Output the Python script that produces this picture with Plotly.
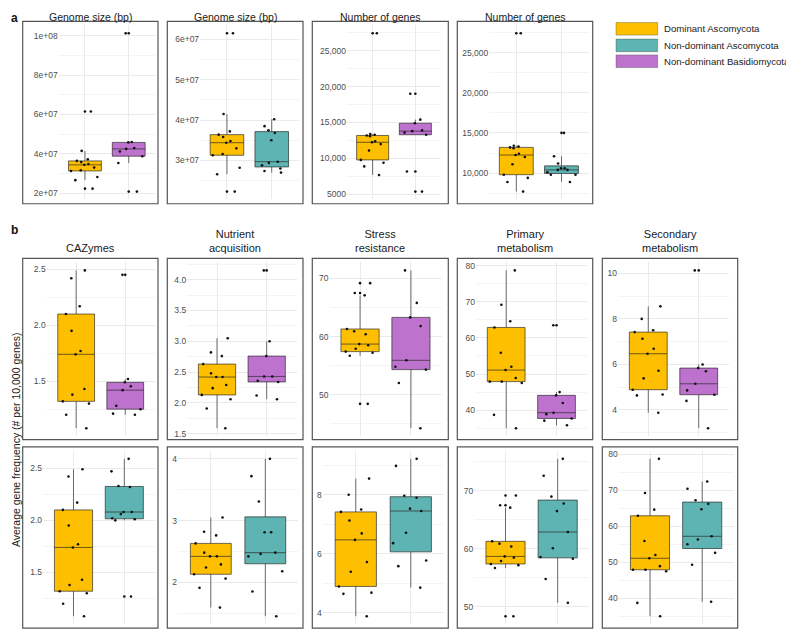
import numpy as np
import plotly.graph_objects as go

W, H = 794, 632
OFF = 8  # the page body margin shifts the figure by this many pixels

# ---------------- categories / legend ----------------
CAT_DA = "Dominant Ascomycota"
CAT_NDA = "Non-dominant Ascomycota"
CAT_NDB = "Non-dominant Basidiomycota"
legend_labels = [CAT_DA, CAT_NDA, CAT_NDB]
COLORS = {CAT_DA: "#FDBF00", CAT_NDA: "#5DB4B2", CAT_NDB: "#BD73CE"}

# ---------------- data ----------------
genome_DA = [6.15e7, 4.15e7, 3.72e7, 3.64e7, 3.58e7, 3.48e7, 3.44e7, 3.30e7, 3.16e7, 3.13e7, 2.82e7, 2.66e7, 2.23e7]
genome_NDB = [10.13e7, 4.60e7, 4.58e7, 4.30e7, 4.25e7, 4.12e7, 3.88e7, 3.53e7, 2.08e7]
genome_NDA = [4.02e7, 3.85e7, 3.75e7, 3.68e7, 3.50e7, 2.97e7, 2.94e7, 2.88e7, 2.80e7, 2.74e7, 2.70e7]

genes_DA = [27400, 13400, 13300, 13200, 13100, 12400, 12250, 12000, 11100, 9800, 9400, 8900, 7700]
genes_NDB = [19000, 15400, 14900, 13900, 13800, 13600, 13300, 8200, 5400]
genes_NDA = [15000, 12100, 11200, 10600, 10600, 10400, 10400, 10100, 9800, 9800, 8900]

caz_DA = [2.49, 2.42, 2.17, 2.10, 1.95, 1.77, 1.74, 1.43, 1.38, 1.32, 1.30, 1.20, 1.08]
caz_NDB = [2.45, 1.52, 1.49, 1.455, 1.42, 1.28, 1.25, 1.21, 1.20]
caz_NDA = [2.59, 2.47, 2.33, 2.32, 2.08, 2.08, 2.06, 2.02, 2.01, 2.00, 1.27]

nut_DA = [3.05, 2.82, 2.76, 2.63, 2.48, 2.42, 2.42, 2.29, 2.24, 2.13, 2.06, 1.91, 1.59]
nut_NDB = [4.15, 3.00, 2.76, 2.43, 2.43, 2.36, 2.34, 2.12, 2.06]
nut_NDA = [4.00, 3.72, 3.31, 2.81, 2.81, 2.48, 2.46, 2.42, 2.18, 1.85, 1.45]

str_DA = [69.2, 67.5, 67.1, 61.3, 60.9, 60.4, 58.7, 58.5, 57.9, 57.4, 57.2, 56.7, 48.4]
str_NDB = [71.4, 65.8, 63.3, 61.8, 55.9, 54.8, 54.3, 52.0, 44.2]
str_NDA = [75.5, 72.6, 69.0, 67.8, 66.5, 62.9, 60.1, 58.6, 58.3, 54.8, 50.7]

pri_DA = [78.7, 69.2, 64.6, 62.9, 55.9, 52.0, 51.1, 48.9, 47.9, 47.9, 47.5, 38.7, 35.0]
pri_NDB = [63.5, 45.0, 44.1, 42.0, 39.3, 38.9, 37.7, 37.1, 35.8]
pri_NDA = [72.4, 70.4, 67.2, 66.2, 64.7, 57.2, 56.3, 55.0, 52.6, 49.3, 39.0]

sec_DA = [8.55, 8.00, 7.50, 7.42, 7.13, 6.69, 6.47, 5.72, 5.39, 4.89, 4.68, 4.64, 3.88]
sec_NDB = [10.13, 6.00, 5.84, 5.70, 5.15, 4.86, 4.67, 4.40, 3.20]
sec_NDA = [9.22, 8.98, 7.97, 7.90, 7.53, 7.45, 6.71, 6.36, 5.77, 5.58, 4.85]

# ---------------- titles and tick labels ----------------
title_genome = "Genome size (bp)"
title_genes = "Number of genes"
title_caz = "CAZymes"
title_nut = "Nutrient<br>acquisition"
title_str = "Stress<br>resistance"
title_pri = "Primary<br>metabolism"
title_sec = "Secondary<br>metabolism"
yaxis_title = "Average gene frequency (# per 10,000 genes)"

ticks_genome1 = [2e7, 4e7, 6e7, 8e7, 1e8]
ticks_genome2 = [3e7, 4e7, 5e7, 6e7]
ticks_genes1 = [5000, 10000, 15000, 20000, 25000]
ticks_genes2 = [10000, 15000, 20000, 25000]
ticks_caz = [1.5, 2.0, 2.5]
ticks_nut1 = [1.5, 2.0, 2.5, 3.0, 3.5, 4.0]
ticks_nut2 = [2, 3, 4]
ticks_str = [50, 60, 70]
ticks_pri = [40, 50, 60, 70, 80]
ticks_sec1 = [4, 6, 8, 10]
ticks_sec2 = [4, 6, 8]


def fmt_sci(v):
    return f"{v:.0e}"


def fmt_genes(v):
    return f"{int(v)}" if v < 10000 else f"{int(v):,}"


def fmt_1d(v):
    return f"{v:.1f}"


def fmt_int(v):
    return f"{v:g}"


# panel layout: border boxes and plot areas in page pixels
BORDERS_X = [(22.7, 158), (167.3, 303), (312.3, 448.3), (457.3, 592.7), (602.3, 737.7)]
ROW_A = (19.5, 203.3)
ROW_B1 = (258.3, 441)
ROW_B2 = (448.3, 631)

panels = [
    (title_genome, CAT_NDB, genome_DA, genome_NDB, ticks_genome1, fmt_sci, 1e7, 0, "a", (58.7, 155)),
    (title_genome, CAT_NDA, genome_DA, genome_NDA, ticks_genome2, fmt_sci, 0.5e7, 1, "a", (200.1, 298.6)),
    (title_genes, CAT_NDB, genes_DA, genes_NDB, ticks_genes1, fmt_genes, 2500, 2, "a", (347, 441)),
    (title_genes, CAT_NDA, genes_DA, genes_NDA, ticks_genes2, fmt_genes, 2500, 3, "a", (489.2, 588.6)),
    (title_caz, CAT_NDB, caz_DA, caz_NDB, ticks_caz, fmt_1d, 0.25, 0, "b1", (46.7, 154.7)),
    (title_nut, CAT_NDB, nut_DA, nut_NDB, ticks_nut1, fmt_1d, 0.25, 1, "b1", (187.2, 296.5)),
    (title_str, CAT_NDB, str_DA, str_NDB, ticks_str, fmt_int, 5, 2, "b1", (329.5, 441.5)),
    (title_pri, CAT_NDB, pri_DA, pri_NDB, ticks_pri, fmt_int, 5, 3, "b1", (476, 586.7)),
    (title_sec, CAT_NDB, sec_DA, sec_NDB, ticks_sec1, fmt_int, 1, 4, "b1", (618, 729)),
    (None, CAT_NDA, caz_DA, caz_NDA, ticks_caz, fmt_1d, 0.25, 0, "b2", (43, 154.8)),
    (None, CAT_NDA, nut_DA, nut_NDA, ticks_nut2, fmt_int, 0.5, 1, "b2", (178.1, 298)),
    (None, CAT_NDA, sec_DA, sec_NDA, ticks_sec2, fmt_int, 1, 2, "b2", (322.8, 443.8)),
    (None, CAT_NDA, str_DA, str_NDA, ticks_str, fmt_int, 5, 3, "b2", (474.2, 589)),
    (None, CAT_NDA, pri_DA, pri_NDA, ticks_pri, fmt_int, 5, 4, "b2", (618.7, 733.5)),
]

ROWS = {
    "a": (ROW_A, (23.5, 199.0)),
    "b1": (ROW_B1, (262.5, 437.5)),
    "b2": (ROW_B2, (452.5, 627.0)),
}

FONT = "Liberation Sans, Arial, Helvetica, sans-serif"
GRID_MAJOR = "#EAEAEA"
GRID_MINOR = "#F4F4F4"
BOX_LINE = "rgba(35,35,35,0.65)"
DOT = dict(color="#111111", size=2.6, line=dict(width=0))


def px_x(v):
    return (v - OFF) / W


def px_y(v):
    return 1 - (v - OFF) / H


def box_stats(vals):
    arr = np.asarray(vals, dtype=float)
    q1, med, q3 = np.percentile(arr, [25, 50, 75])
    iqr = q3 - q1
    lo_f, hi_f = q1 - 1.5 * iqr, q3 + 1.5 * iqr
    inside = arr[(arr >= lo_f) & (arr <= hi_f)]
    outl = arr[(arr < lo_f) | (arr > hi_f)]
    return q1, med, q3, inside.min(), inside.max(), outl


fig = go.Figure()
shapes = []
annotations = []

for i, (title, other, da_vals, ot_vals, ticks, fmt, minor_step, col, row, (pl, pr)) in enumerate(panels):
    n = i + 1
    xa = "x" if n == 1 else f"x{n}"
    ya = "y" if n == 1 else f"y{n}"
    xk = "xaxis" if n == 1 else f"xaxis{n}"
    yk = "yaxis" if n == 1 else f"yaxis{n}"
    (by0, by1), (pt, pb) = ROWS[row]
    bx0, bx1 = BORDERS_X[col]
    cats = [CAT_DA, other]

    for cat, vals in ((CAT_DA, da_vals), (other, ot_vals)):
        q1, med, q3, lw, uw, outl = box_stats(vals)
        fig.add_trace(go.Box(
            x=[cat], q1=[q1], median=[med], q3=[q3], lowerfence=[lw], upperfence=[uw],
            boxpoints=False, width=0.75, whiskerwidth=0,
            fillcolor=COLORS[cat], line=dict(color=BOX_LINE, width=1),
            xaxis=xa, yaxis=ya, showlegend=False, hoverinfo="skip"))
        fig.add_trace(go.Box(
            x=[cat] * len(vals), y=vals, boxpoints="all", jitter=1, pointpos=0, width=0.8,
            fillcolor="rgba(0,0,0,0)", line=dict(color="rgba(0,0,0,0)", width=0),
            marker=DOT, xaxis=xa, yaxis=ya, showlegend=False, hoverinfo="skip"))
        if len(outl):
            fig.add_trace(go.Scatter(
                x=[cat] * len(outl), y=list(outl), mode="markers", marker=DOT,
                xaxis=xa, yaxis=ya, showlegend=False, hoverinfo="skip"))

    allv = np.asarray(list(da_vals) + list(ot_vals), dtype=float)
    span = allv.max() - allv.min()
    yr = [allv.min() - 0.05 * span, allv.max() + 0.05 * span]

    fig.layout[xk] = dict(
        domain=[px_x(pl), px_x(pr)], anchor=ya, type="category",
        categoryorder="array", categoryarray=cats, range=[-0.6, 1.6],
        showticklabels=False, showgrid=True, gridcolor=GRID_MAJOR, gridwidth=1,
        zeroline=False, showline=False, ticks="", fixedrange=True)
    fig.layout[yk] = dict(
        domain=[px_y(pb), px_y(pt)], anchor=xa, range=yr,
        tickmode="array", tickvals=ticks, ticktext=[fmt(t) for t in ticks],
        tickfont=dict(family=FONT, size=8.5, color="#4D4D4D"),
        showgrid=True, gridcolor=GRID_MAJOR, gridwidth=1,
        minor=dict(tickmode="linear", tick0=0, dtick=minor_step, showgrid=True,
                   gridcolor=GRID_MINOR, gridwidth=1, ticks=""),
        zeroline=False, showline=False, ticks="", fixedrange=True)

    shapes.append(dict(type="rect", xref="paper", yref="paper",
                       x0=px_x(bx0), x1=px_x(bx1), y0=px_y(by1), y1=px_y(by0),
                       line=dict(color="#555555", width=1.2), fillcolor="rgba(0,0,0,0)", layer="above"))
    if title is not None:
        cx = px_x((bx0 + bx1) / 2)
        if row == "a":
            annotations.append(dict(text=title, x=cx, y=px_y(15.3), xref="paper", yref="paper",
                                    xanchor="center", yanchor="middle", showarrow=False,
                                    font=dict(family=FONT, size=10.5, color="#1A1A1A")))
        else:
            annotations.append(dict(text=title, x=cx, y=px_y(255.5), xref="paper", yref="paper",
                                    xanchor="center", yanchor="bottom", showarrow=False,
                                    font=dict(family=FONT, size=11, color="#1A1A1A")))

annotations.append(dict(text="<b>a</b>", x=px_x(8.5), y=px_y(16.5), xref="paper", yref="paper",
                        xanchor="left", yanchor="middle", showarrow=False,
                        font=dict(family=FONT, size=12, color="#111111")))
annotations.append(dict(text="<b>b</b>", x=px_x(8.5), y=px_y(230), xref="paper", yref="paper",
                        xanchor="left", yanchor="middle", showarrow=False,
                        font=dict(family=FONT, size=12, color="#111111")))
annotations.append(dict(text=yaxis_title, x=px_x(15.5), y=px_y(441), xref="paper", yref="paper",
                        xanchor="center", yanchor="middle", textangle=-90, showarrow=False,
                        font=dict(family=FONT, size=10.5, color="#1A1A1A")))

LEG_ROWS = [(20.7, 33.3), (37.3, 50.0), (53.3, 66.0)]
for lab, (y0, y1) in zip(legend_labels, LEG_ROWS):
    shapes.append(dict(type="rect", xref="paper", yref="paper",
                       x0=px_x(616), x1=px_x(657.7), y0=px_y(y1), y1=px_y(y0),
                       fillcolor=COLORS[lab], line=dict(color="rgba(60,60,60,0.35)", width=1)))
    annotations.append(dict(text=lab, x=px_x(661.5), y=px_y((y0 + y1) / 2), xref="paper", yref="paper",
                            xanchor="left", yanchor="middle", showarrow=False,
                            font=dict(family=FONT, size=9.6, color="#1A1A1A")))

fig.update_layout(
    width=W, height=H, autosize=False,
    margin=dict(l=0, r=0, t=0, b=0),
    paper_bgcolor="white", plot_bgcolor="white",
    boxmode="overlay", showlegend=False,
    shapes=shapes, annotations=annotations,
    font=dict(family=FONT),
)

fig.write_html("out.html")
